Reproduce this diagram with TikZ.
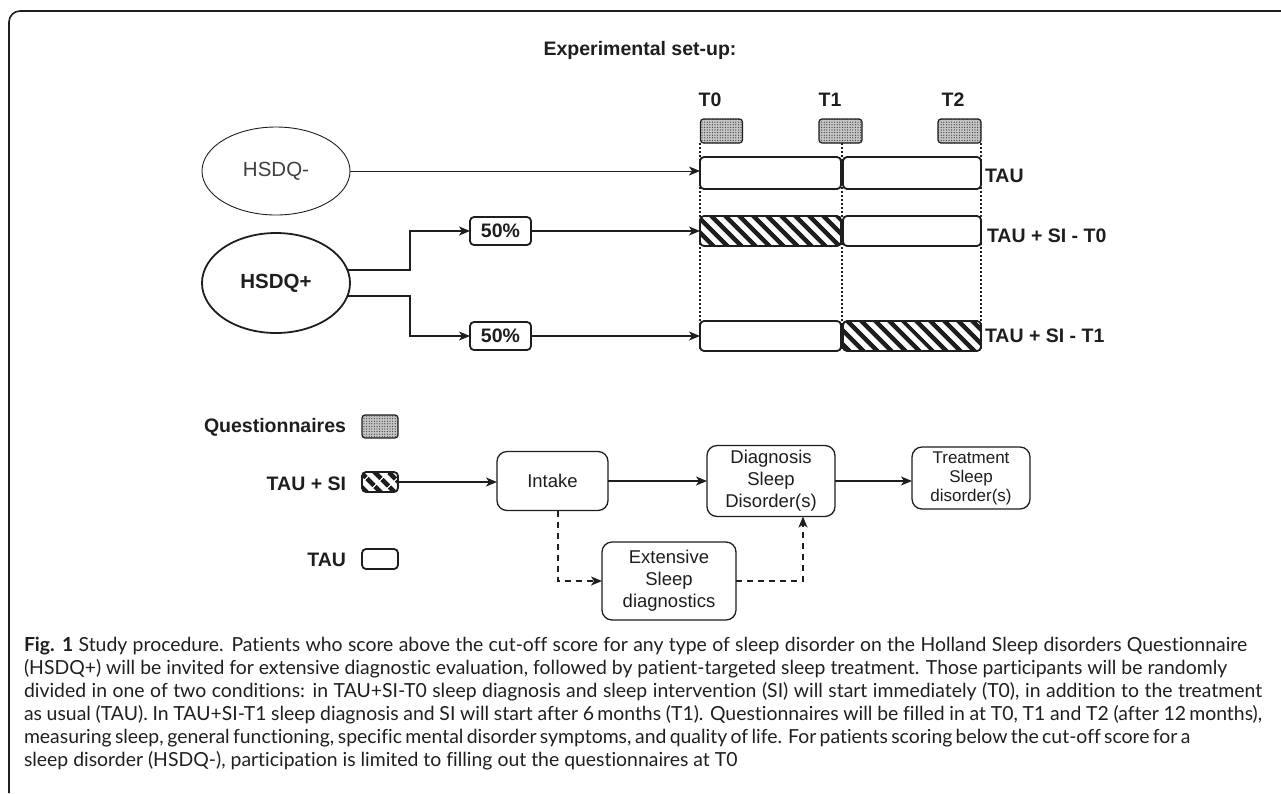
\documentclass[tikz,border=0pt]{standalone}
\usepackage{fontspec}
\setmainfont{Liberation Sans}
\newfontfamily\capfont{Lato}[Ligatures=NoCommon]
\usetikzlibrary{arrows.meta,patterns.meta,shapes.geometric,calc}
\definecolor{ink}{HTML}{1E1E1E}
\begin{document}
\begin{tikzpicture}[x=1pt,y=-1pt,
  every node/.style={inner sep=0pt, outer sep=0pt, text=ink, font=\fontsize{18.5}{22}\selectfont},
  lbl/.style={font=\bfseries\fontsize{19.5}{22}\selectfont},
  bx/.style={draw=ink, line width=1.8pt, rounded corners=4pt, fill=white},
  qbox/.style={draw=ink, line width=1.2pt, rounded corners=3pt, preaction={fill=gray!45}, pattern={Dots[radius=0.65pt,distance=2.6pt]}, pattern color=black!75},
  hbox/.style={draw=ink, line width=1.8pt, rounded corners=4pt, preaction={fill=white}, pattern={Lines[angle=-45,distance=10.5pt,line width=5pt]}, pattern color=ink},
  pbox/.style={draw=ink, line width=1.3pt, rounded corners=10pt, fill=white, align=center},
  ln/.style={draw=ink, line width=1.8pt},
  arr/.style={-{Stealth[length=11pt,width=9pt,inset=3pt]}},
  dsh/.style={draw=ink, line width=1.8pt, dash pattern=on 6pt off 5pt},
  vdot/.style={draw=ink, line width=1.3pt, dash pattern=on 1.5pt off 2.5pt},
  capt/.style={font=\capfont\fontsize{19.4}{23}\selectfont, text=black!88}
]
\useasboundingbox (0,0) rectangle (1281,793);
% frame
\draw[line width=1.6pt, rounded corners=11pt, ink] (9,793) -- (9,11) -- (1281,11);

% title
\node[lbl] (title) at (640,50) {Experimental set-up:};

% time labels
\node[lbl] (t0) at (710,100) {T0};
\node[lbl] (t1) at (830,100) {T1};
\node[lbl] (t2) at (953,100) {T2};

% questionnaire boxes
\node[qbox, minimum width=42pt, minimum height=24pt] (q0) at (721.5,131) {};
\node[qbox, minimum width=43pt, minimum height=24pt] (q1) at (840.5,131) {};
\node[qbox, minimum width=43pt, minimum height=24pt] (q2) at (959.5,131) {};

% rows
\node[bx, minimum width=141pt, minimum height=32pt] (r1a) at (770.5,173) {};
\node[bx, minimum width=138pt, minimum height=32pt] (r1b) at (912,173) {};
\node[hbox, minimum width=141pt, minimum height=30pt] (r2a) at (770.5,231) {};
\node[bx, minimum width=138pt, minimum height=30pt] (r2b) at (912,231) {};
\node[bx, minimum width=141pt, minimum height=30pt] (r3a) at (770.5,336) {};
\node[hbox, minimum width=138pt, minimum height=30pt] (r3b) at (912,336) {};

% dotted time lines
\coordinate (c0) at (700,0);
\coordinate (c1) at (842,0);
\coordinate (c2) at (981,0);
\draw[vdot] (c0 |- q0.south) -- (c0 |- r3a.south);
\draw[vdot] (c1 |- q1.south) -- (c1 |- r3a.south);
\draw[vdot] (c2 |- q2.south) -- (c2 |- r3a.south);

% row labels
\node[lbl, anchor=west] (l1) at (985,176) {TAU};
\node[lbl, anchor=west] (l2) at (987,236) {TAU + SI - T0};
\node[lbl, anchor=west] (l3) at (985,336) {TAU + SI - T1};

% groups
\node[ellipse, draw=ink, line width=0.9pt, minimum width=148pt, minimum height=88pt, text=black!75, font=\fontsize{20.5}{24}\selectfont] (hm) at (276,171) {HSDQ-};
\node[ellipse, draw=ink, line width=1.8pt, minimum width=148pt, minimum height=100pt, font=\bfseries\fontsize{20.5}{24}\selectfont] (hp) at (276,283) {HSDQ+};

\node[bx, lbl, minimum width=61pt, minimum height=28pt] (p1) at (500.5,231) {50\%};
\node[bx, lbl, minimum width=61pt, minimum height=28pt] (p2) at (500.5,336) {50\%};

\draw[draw=ink, line width=1pt, arr] (hm.east) -- (hm.east -| r1a.west);
\coordinate (bx) at (410,0);
\draw[ln, arr] (hp.10) -- (hp.10 -| bx) |- (p1.west);
\draw[ln, arr] (hp.-10) -- (hp.-10 -| bx) |- (p2.west);
\draw[ln, arr] (p1.east) -- (r2a.west);
\draw[ln, arr] (p2.east) -- (r3a.west);

% legend
\node[lbl, anchor=east] (lqt) at (346,427) {Questionnaires};
\node[qbox, minimum width=36pt, minimum height=23pt] (lq) at (380,426.5) {};
\node[lbl, anchor=east] (lht) at (346,484) {TAU + SI};
\node[hbox, minimum width=36pt, minimum height=20pt] (lh) at (380,482) {};
\node[lbl, anchor=east] (ltt) at (346,560) {TAU};
\node[bx, minimum width=36pt, minimum height=20pt] (lt) at (380,559) {};

% process
\node[pbox, minimum width=111pt, minimum height=59pt] (intake) at (552.5,481) {Intake};
\node[pbox, minimum width=128pt, minimum height=71pt] (diag) at (771,481) {Diagnosis\\Sleep\\Disorder(s)};
\node[pbox, minimum width=118pt, minimum height=62pt, font=\fontsize{17}{19}\selectfont] (treat) at (971,478) {Treatment\\Sleep\\disorder(s)};
\node[pbox, minimum width=134pt, minimum height=78pt] (ext) at (669,581) {Extensive\\Sleep\\diagnostics};

\draw[ln, arr] (lh.east) -- (lh.east -| intake.west);
\draw[ln, arr] (intake.east) -- (diag.west);
\draw[ln, arr] (diag.east) -- (diag.east -| treat.west);
\draw[dsh, arr] ([xshift=5.5pt]intake.south) |- (ext.west);
\draw[dsh, arr] (ext.east) -| ([xshift=32pt]diag.south);

% caption
\node[capt, anchor=base west] (cap1) at (24,651) {\makebox[1223pt][s]{\textbf{Fig. 1} Study procedure. Patients who score above the cut-off score for any type of sleep disorder on the Holland Sleep disorders Questionnaire}};
\node[capt, anchor=base west] (cap2) at (24,674) {\makebox[1203pt][s]{(HSDQ+) will be invited for extensive diagnostic evaluation, followed by patient-targeted sleep treatment. Those participants will be randomly}};
\node[capt, anchor=base west] (cap3) at (24,697) {\makebox[1238pt][s]{divided in one of two conditions: in TAU+SI-T0 sleep diagnosis and sleep intervention (SI) will start immediately (T0), in addition to the treatment}};
\node[capt, anchor=base west] (cap4) at (24,720) {\makebox[1238pt][s]{as usual (TAU). In TAU+SI-T1 sleep diagnosis and SI will start after 6\,months (T1). Questionnaires will be filled in at T0, T1 and T2 (after 12\,months),}};
\node[capt, anchor=base west] (cap5) at (24,743) {\makebox[1140pt][s]{measuring sleep, general functioning, specific mental disorder symptoms, and quality of life. For patients scoring below the cut-off score for a}};
\node[capt, anchor=base west] (cap6) at (24,766) {sleep disorder (HSDQ-), participation is limited to filling out the questionnaires at T0};
\end{tikzpicture}
\end{document}
